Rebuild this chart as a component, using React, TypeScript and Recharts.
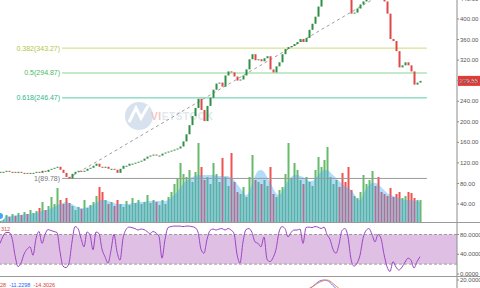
import React from 'react';
import {
  ComposedChart, LineChart, Bar, Line, Area, Cell, XAxis, YAxis, ReferenceLine, ReferenceArea,
} from 'recharts';

// daily closes, one per candle
const closes = [
  102.6, 102.6, 104.6, 102.6, 102.6, 100.6, 102.6, 100.6, 100.6, 98.7,
  100.6, 100.6, 102.6, 100.6, 104.6, 102.6, 106.6, 108.5, 110.5, 112.5,
  106.6, 100.6, 92.7, 89.8, 98.7, 102.6, 104.6, 102.6, 104.6, 108.5,
  110.5, 114.4, 118.4, 112.5, 110.5, 112.5, 108.5, 108.5, 106.6, 100.6,
  108.5, 114.4, 114.4, 118.4, 118.4, 120.4, 122.3, 124.3, 128.3, 132.2,
  134.2, 136.2, 134.2, 134.2, 138.1, 140.1, 142.1, 144.0, 146.0, 148.0,
  151.9, 161.8, 175.6, 193.4, 211.1, 226.9, 244.7, 223.0, 201.3, 230.9,
  246.7, 262.4, 274.3, 276.2, 268.4, 290.1, 298.0, 296.0, 288.1, 280.2,
  282.2, 290.1, 301.9, 321.6, 331.5, 319.7, 321.6, 317.7, 323.6, 327.6,
  301.9, 296.0, 307.8, 315.7, 331.5, 341.4, 345.3, 347.3, 351.2, 355.2,
  361.1, 355.2, 363.1, 378.9, 390.7, 404.5, 424.2, 446.0, 463.7, 479.5,
  489.4, 499.3, 500.0, 495.3, 483.5, 469.6, 451.9, 410.4, 412.4, 420.3,
  428.2, 434.1, 446.0, 459.8, 467.7, 463.7, 455.8, 446.0, 434.1, 410.4,
  361.1, 357.1, 337.4, 305.8, 309.8, 315.7, 309.8, 298.0, 272.3, 276.2,
  279.55,
];

const volumes = [
  6, 4, 7, 5, 8, 6, 9, 7, 10, 8,
  12, 9, 11, 14, 20, 12, 16, 25, 18, 34,
  22, 18, 24, 19, 16, 12, 15, 13, 22, 14,
  17, 20, 26, 35, 30, 22, 18, 20, 16, 22,
  18, 15, 21, 17, 24, 19, 22, 18, 20, 27,
  19, 22, 20, 17, 22, 18, 25, 30, 38, 44,
  59, 48, 45, 52, 40, 50, 79, 55, 42, 45,
  38, 59, 48, 40, 64, 45, 36, 69, 40, 30,
  28, 35, 25, 45, 67, 42, 40, 38, 42, 36,
  55, 28, 25, 32, 35, 48, 79, 44, 59, 52,
  42, 38, 45, 40, 36, 52, 65, 55, 62, 75,
  45, 38, 42, 35, 49, 40, 55, 32, 26, 24,
  30, 47, 38, 42, 51, 36, 45, 30, 28, 26,
  34, 25, 28, 30, 24, 26, 30, 29, 24, 22,
  22,
];

const volumeMa = [
  6, 6, 6, 6, 6, 7, 7, 7, 8, 8,
  8, 9, 9, 10, 11, 12, 12, 14, 15, 17,
  18, 19, 20, 19, 18, 16, 15, 14, 14, 15,
  16, 17, 19, 21, 22, 22, 21, 20, 19, 18,
  18, 18, 18, 18, 19, 19, 20, 20, 20, 21,
  21, 21, 21, 21, 21, 21, 22, 24, 27, 30,
  34, 38, 41, 43, 45, 46, 47, 47, 47, 47,
  47, 47, 46, 46, 46, 46, 46, 44, 42, 38,
  34, 30, 27, 30, 38, 46, 51, 52, 50, 45,
  40, 34, 29, 27, 30, 36, 41, 45, 47, 47,
  46, 45, 43, 41, 41, 43, 47, 50, 52, 52,
  50, 47, 44, 41, 38, 36, 34, 32, 28, 23,
  22, 27, 33, 37, 39, 39, 38, 35, 32, 29,
  27, 26, 25, 24, 23, 22, 22, 22, 21, 21,
  20,
];

const rsi = [
  62, 76, 84, 84, 73, 38, 15, 22, 40, 50,
  55, 38, 72, 86, 62, 80, 90, 88, 86, 84,
  45, 16, 13, 22, 65, 96, 92, 72, 55, 85,
  79, 49, 85, 82, 50, 35, 22, 48, 80, 45,
  28, 72, 90, 95, 94, 92, 89, 91, 90, 86,
  82, 86, 83, 76, 32, 70, 94, 96, 97, 97,
  97, 96, 97, 97, 96, 94, 85, 50, 42, 70,
  88, 91, 89, 91, 92, 89, 92, 89, 82, 40,
  22, 65, 90, 92, 84, 65, 62, 55, 75, 30,
  25, 33, 50, 85, 96, 92, 75, 84, 89, 89,
  91, 62, 94, 95, 94, 96, 95, 92, 95, 80,
  70, 50, 42, 60, 88, 92, 75, 30, 16, 22,
  38, 72, 88, 92, 80, 65, 80, 72, 40, 15,
  5, 25, 14, 8, 14, 24, 32, 28, 12, 25,
  35,
];

// only the part of the MACD pane that shows above the bottom edge
const macdStart = 102;
const macd = [-2, 2, 6, 11, 16, 19, 20, 19, 15, 9, 3, -2];
const macdSignal = [0, 3, 6, 10, 14, 17, 19, 20, 18, 13, 8, 3];

const priceTicks = [40, 80, 120, 160, 200, 240, 280, 320, 360, 400, 440];
const rsiTicks = [0, 40, 80];
const macdTicks = [20];

const fibRatios = ['0.382', '0.5', '0.618', '1'];
const fibPrices = [343.27, 294.87, 246.47, 89.78];
const fibHigh = 499.96;
const fibFrom = 20.7; // candle index where the fib lines start
const fibTo = 142.3;
const fibLowAt = 22.7;
const lastPrice = 279.55;

const fibText = ['#b0c646', '#4cb860', '#2eb68e', '#777'];
const fibLine = ['#cddc7a', '#86d68f', '#5ccaa8', '#9a9a9a'];

const X_DOMAIN: [number, number] = [0, 152.33];
const AXIS = '#8c8c8c';
const tickStyle = { fontSize: 6, fill: '#555' };

const rows = closes.map((c, i) => ({
  i,
  open: i ? closes[i - 1] : c,
  close: c,
  vol: volumes[i],
  volMa: volumeMa[i],
  rsi: rsi[i],
}));

const macdRows = macd.map((m, k) => ({ i: macdStart + k, macd: m, signal: macdSignal[k] }));

const Candle = (p: any) => {
  const { x, y, width, height, payload } = p;
  const up = payload.close >= payload.open;
  const top = height < 0 ? y + height : y;
  const h = Math.max(Math.abs(height), 1);
  return <rect x={x} y={top} width={width} height={h} fill={up ? '#2f8f46' : '#e04848'} />;
};

const PriceTag = (p: any) => {
  const vb = p.viewBox || {};
  const right = vb.x + (vb.width || 0);
  return (
    <g>
      <rect x={right + 1} y={vb.y - 5} width={22} height={10} fill="#e53935" />
      <text x={right + 12} y={vb.y + 2.2} textAnchor="middle" fontSize={6} fill="#fff">
        {lastPrice.toFixed(2)}
      </text>
    </g>
  );
};

const App = () => {
  return (
    <div style={{ position: 'absolute', left: 0, top: 0, width: 480, height: 288, overflow: 'hidden', background: '#fff', fontFamily: 'Arial, "Liberation Sans", sans-serif' }}>
      {/* watermark */}
      <svg width={480} height={288} style={{ position: 'absolute', left: 0, top: 0 }}>
        <circle cx={139} cy={116} r={14} fill="#d7e2ee" />
        <path d="M129 122 L136 108 L141 118 L148 106" stroke="#fff" strokeWidth={3} fill="none" />
        <text x={151} y={119.5} fontSize={10} fontWeight="bold" letterSpacing={0.6}>
          <tspan fill="#f2c6c6">VI</tspan>
          <tspan fill="#e2e7ee">ETSTOCK</tspan>
        </text>
      </svg>

      <div style={{ position: 'absolute', left: 0, top: -6 }}>
        <ComposedChart width={480} height={228} data={rows} margin={{ top: 0, right: 0, bottom: 0, left: 0 }}>
          <XAxis xAxisId="p" dataKey="i" type="number" domain={X_DOMAIN} allowDataOverflow hide />
          <XAxis xAxisId="v" dataKey="i" type="number" domain={X_DOMAIN} allowDataOverflow hide />
          <YAxis
            yAxisId="p"
            orientation="right"
            width={23}
            domain={[5, 448.6]}
            ticks={priceTicks}
            interval={0}
            allowDataOverflow
            tickFormatter={(v: number) => v.toFixed(2)}
            tick={tickStyle}
            tickSize={2}
            tickMargin={1}
            axisLine={{ stroke: AXIS }}
            tickLine={{ stroke: AXIS }}
          />
          <YAxis yAxisId="v" hide domain={[0, 228]} />

          {/* volume */}
          <Bar xAxisId="v" yAxisId="v" dataKey="vol" barSize={2} isAnimationActive={false}>
            {rows.map((r, i) => (
              <Cell key={i} fill={r.close >= r.open ? '#66bb6a' : '#ef5350'} />
            ))}
          </Bar>
          <Area
            xAxisId="v"
            yAxisId="v"
            dataKey="volMa"
            type="monotone"
            stroke="none"
            fill="#42a5f5"
            fillOpacity={0.4}
            isAnimationActive={false}
            zIndex={350}
          />

          {/* fibonacci retracement */}
          <ReferenceLine
            xAxisId="p"
            yAxisId="p"
            segment={[{ x: fibLowAt, y: fibPrices[3] }, { x: fibTo, y: fibHigh }]}
            stroke="#9e9e9e"
            strokeDasharray="3 3"
            ifOverflow="hidden"
          />
          {fibRatios.map((r, k) => (
            <ReferenceLine
              key={r}
              xAxisId="p"
              yAxisId="p"
              segment={[{ x: fibFrom, y: fibPrices[k] }, { x: fibTo, y: fibPrices[k] }]}
              stroke={fibLine[k]}
              strokeWidth={1}
              label={{ value: `${r}(${fibPrices[k].toFixed(2)})`, position: 'left', fill: fibText[k], fontSize: 7, offset: 2 }}
            />
          ))}

          {/* candles */}
          <Bar
            xAxisId="p"
            yAxisId="p"
            dataKey={(r: any) => [Math.min(r.open, r.close), Math.max(r.open, r.close)]}
            barSize={2}
            shape={Candle}
            isAnimationActive={false}
            zIndex={450}
          />
          <ReferenceLine xAxisId="p" yAxisId="p" y={lastPrice} stroke="none" label={PriceTag} />
        </ComposedChart>
      </div>

      {/* RSI pane */}
      <div style={{ position: 'absolute', left: 0, top: 222 }}>
        <LineChart width={480} height={54} data={rows} margin={{ top: 0, right: 0, bottom: 0, left: 0 }}>
          <XAxis dataKey="i" type="number" domain={X_DOMAIN} allowDataOverflow hide />
          <YAxis
            orientation="right"
            width={23}
            domain={[-4.05, 105.3]}
            ticks={rsiTicks}
            interval={0}
            allowDataOverflow
            tickFormatter={(v: number) => v.toFixed(4)}
            tick={tickStyle}
            tickSize={2}
            tickMargin={1}
            axisLine={{ stroke: AXIS }}
            tickLine={{ stroke: AXIS }}
          />
          <ReferenceArea y1={20} y2={80} fill="#e0bfe5" fillOpacity={1} stroke="none" />
          <ReferenceLine y={80} stroke="#9a9a9a" strokeDasharray="3 2" />
          <ReferenceLine y={20} stroke="#9a9a9a" strokeDasharray="3 2" />
          <Line dataKey="rsi" type="monotone" stroke="#9c45c4" strokeWidth={1} dot={false} isAnimationActive={false} />
        </LineChart>
      </div>

      {/* MACD pane, mostly below the picture */}
      <div style={{ position: 'absolute', left: 0, top: 276 }}>
        <LineChart width={480} height={30} data={macdRows} margin={{ top: 0, right: 0, bottom: 0, left: 0 }}>
          <XAxis dataKey="i" type="number" domain={X_DOMAIN} allowDataOverflow hide />
          <YAxis
            orientation="right"
            width={23}
            domain={[-32, 28]}
            ticks={macdTicks}
            interval={0}
            allowDataOverflow
            tickFormatter={(v: number) => v.toFixed(4)}
            tick={tickStyle}
            tickSize={2}
            tickMargin={1}
            axisLine={{ stroke: AXIS }}
            tickLine={{ stroke: AXIS }}
          />
          <Line dataKey="macd" type="monotone" stroke="#5c7cfa" strokeWidth={1} dot={false} isAnimationActive={false} />
          <Line dataKey="signal" type="monotone" stroke="#f4845f" strokeWidth={1} dot={false} isAnimationActive={false} />
        </LineChart>
      </div>

      {/* pane separators and indicator readouts */}
      <div style={{ position: 'absolute', left: 0, top: 222, width: 480, height: 1, background: '#9a9a9a' }} />
      <div style={{ position: 'absolute', left: 0, top: 276, width: 480, height: 1, background: '#9a9a9a' }} />
      <svg width={480} height={288} style={{ position: 'absolute', left: 0, top: 0, pointerEvents: 'none' }}>
        <text x={1} y={231} fontSize={5.5} fill="#e53935">312</text>
        <text x={0} y={286.5} fontSize={5.5}>
          <tspan fill="#e53935">28</tspan>
          <tspan fill="#2962ff" dx={3}>-11.2298</tspan>
          <tspan fill="#e53935" dx={3}>-14.3026</tspan>
        </text>
      </svg>
    </div>
  );
};

export default App;
